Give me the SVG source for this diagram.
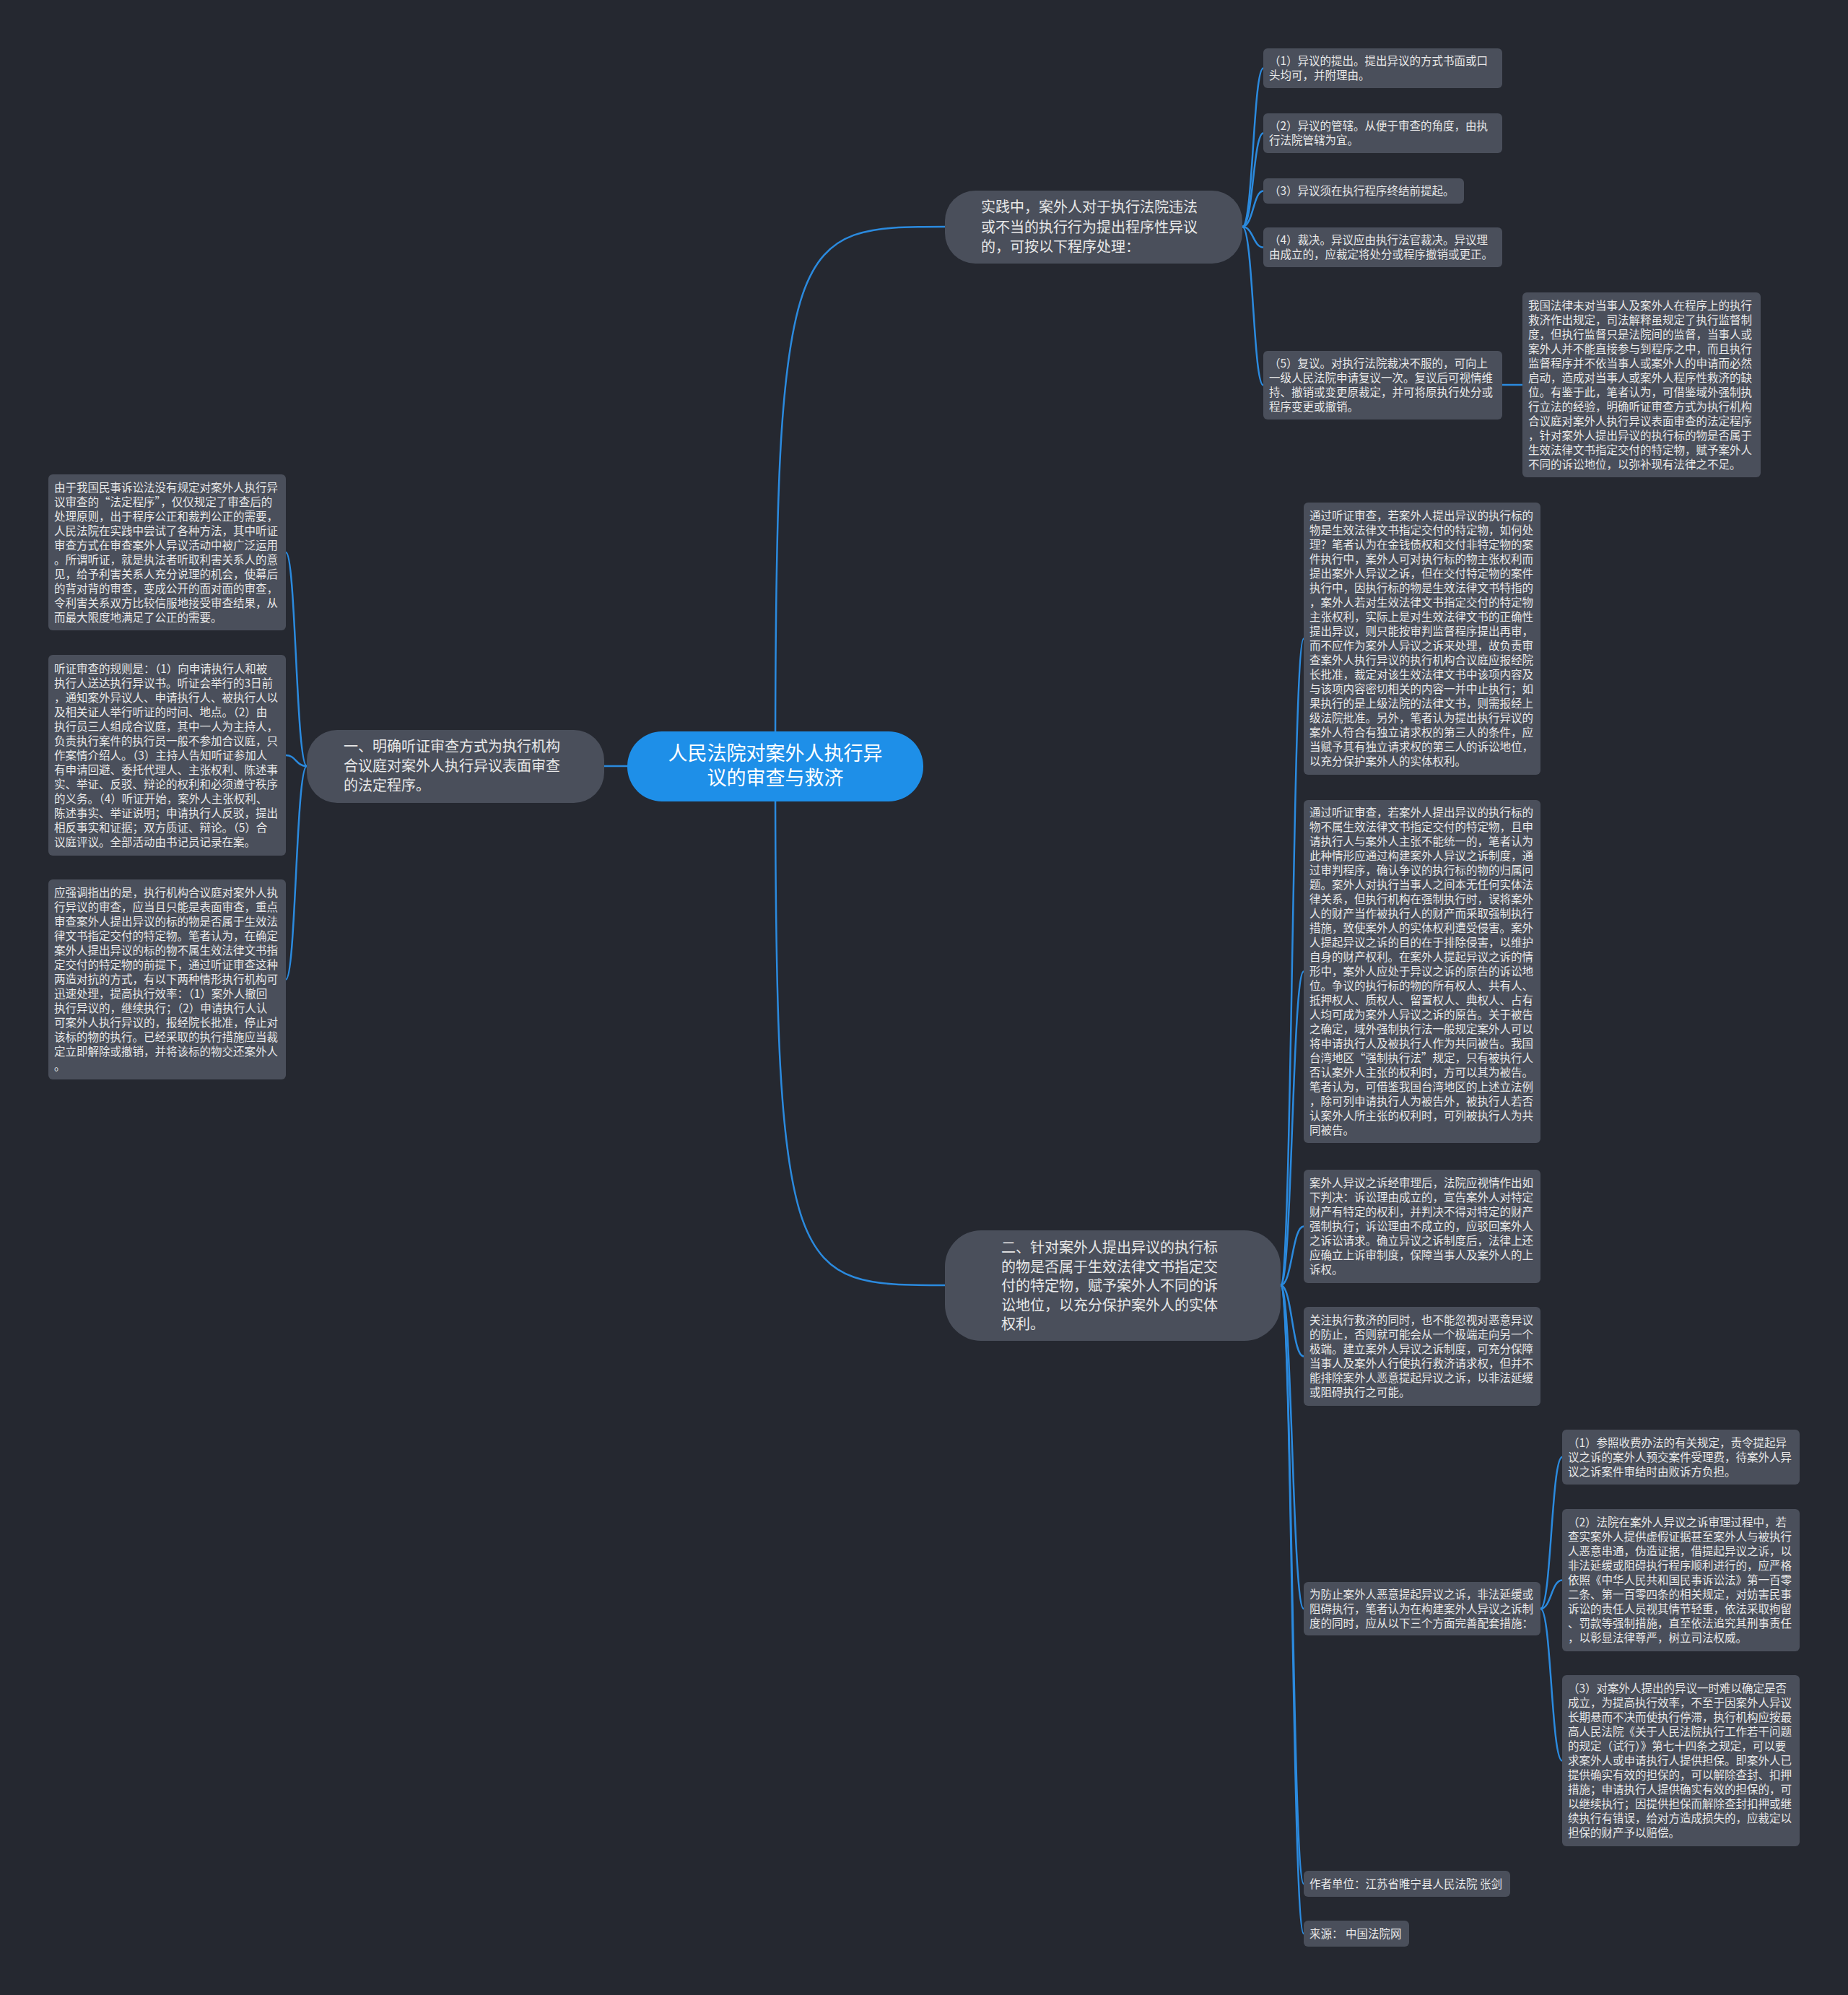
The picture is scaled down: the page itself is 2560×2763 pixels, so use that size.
<svg xmlns="http://www.w3.org/2000/svg" width="2560" height="2763" viewBox="0 0 2560 2763">
<style>
.bg{fill:#252830}
.n{fill:#4a4f5b}
.l1{fill:#4a4f5b}
.root{fill:#1e8fe8}
.t{font-family:"Noto Sans CJK SC","Noto Sans",sans-serif;font-size:15.5px;fill:#e8e8e8}
.t1{font-family:"Noto Sans CJK SC","Noto Sans",sans-serif;font-size:20px;fill:#e8e8e8}
.tr{font-family:"Noto Sans CJK SC","Noto Sans",sans-serif;font-size:27px;fill:#ffffff}
.c{fill:none;stroke:#2b8ade;stroke-width:2.5}
</style>
<rect class="bg" x="0" y="0" width="2560" height="2763"/>
<g id="connectors">
<path class="c" d="M1074,1061 C1074,314 1097,314 1309,314"/>
<path class="c" d="M1074,1061 C1074,1780 1097,1780 1309,1780"/>
<path class="c" d="M1074,1061 L837,1061"/>
<path class="c" d="M1721,314 C1736,314 1736,94.5 1750,94.5"/>
<path class="c" d="M1721,314 C1736,314 1736,184.5 1750,184.5"/>
<path class="c" d="M1721,314 C1736,314 1736,264.5 1750,264.5"/>
<path class="c" d="M1721,314 C1736,314 1736,342.5 1750,342.5"/>
<path class="c" d="M1721,314 C1736,314 1736,533.5 1750,533.5"/>
<path class="c" d="M2081,533 L2109,533"/>
<path class="c" d="M425,1061 C410,1061 410,765 396,765"/>
<path class="c" d="M425,1061 C410,1061 410,1046 396,1046"/>
<path class="c" d="M425,1061 C410,1061 410,1356.5 396,1356.5"/>
<path class="c" d="M1774,1780 C1790,1780 1790,884.5 1806,884.5"/>
<path class="c" d="M1774,1780 C1790,1780 1790,1345.5 1806,1345.5"/>
<path class="c" d="M1774,1780 C1790,1780 1790,1698.5 1806,1698.5"/>
<path class="c" d="M1774,1780 C1790,1780 1790,1878.5 1806,1878.5"/>
<path class="c" d="M1774,1780 C1790,1780 1790,2228 1806,2228"/>
<path class="c" d="M1774,1780 C1790,1780 1790,2609 1806,2609"/>
<path class="c" d="M1774,1780 C1790,1780 1790,2678 1806,2678"/>
<path class="c" d="M2134,2228 C2149,2228 2149,2018 2164,2018"/>
<path class="c" d="M2134,2228 C2149,2228 2149,2188.5 2164,2188.5"/>
<path class="c" d="M2134,2228 C2149,2228 2149,2438.5 2164,2438.5"/>
</g>
<g id="root">
<rect class="root" x="869" y="1013" width="410" height="97" rx="48"/>
<text class="tr" text-anchor="middle"><tspan x="1074" y="1053">人民法院对案外人执行异</tspan><tspan x="1074" dy="34">议的审查与救济</tspan></text>
</g>
<g id="nodeA">
<rect class="l1" x="1309" y="264" width="412" height="101" rx="42"/>
<text class="t1"><tspan x="1359" y="294">实践中，案外人对于执行法院违法</tspan><tspan x="1359" dy="27.5">或不当的执行行为提出程序性异议</tspan><tspan x="1359" dy="27.5">的，可按以下程序处理：</tspan></text>
</g>
<g id="nodeB">
<rect class="l1" x="425" y="1011" width="412" height="101" rx="42"/>
<text class="t1"><tspan x="476" y="1041">一、明确听证审查方式为执行机构</tspan><tspan x="476" dy="27">合议庭对案外人执行异议表面审查</tspan><tspan x="476" dy="27">的法定程序。</tspan></text>
</g>
<g id="nodeC">
<rect class="l1" x="1309" y="1704" width="465" height="153" rx="50"/>
<text class="t1"><tspan x="1387" y="1735">二、针对案外人提出异议的执行标</tspan><tspan x="1387" dy="26.5">的物是否属于生效法律文书指定交</tspan><tspan x="1387" dy="26.5">付的特定物，赋予案外人不同的诉</tspan><tspan x="1387" dy="26.5">讼地位，以充分保护案外人的实体</tspan><tspan x="1387" dy="26.5">权利。</tspan></text>
</g>
<g id="a1">
<rect class="n" x="1750" y="67" width="331" height="55" rx="6"/>
<text class="t"><tspan x="1758" y="90">（1）异议的提出。提出异议的方式书面或口</tspan><tspan x="1758" dy="20">头均可，并附理由。</tspan></text>
</g>
<g id="a2">
<rect class="n" x="1750" y="157" width="331" height="55" rx="6"/>
<text class="t"><tspan x="1758" y="180">（2）异议的管辖。从便于审查的角度，由执</tspan><tspan x="1758" dy="20">行法院管辖为宜。</tspan></text>
</g>
<g id="a3">
<rect class="n" x="1750" y="247" width="278" height="35" rx="6"/>
<text class="t"><tspan x="1758" y="270">（3）异议须在执行程序终结前提起。</tspan></text>
</g>
<g id="a4">
<rect class="n" x="1750" y="315" width="331" height="55" rx="6"/>
<text class="t"><tspan x="1758" y="338">（4）裁决。异议应由执行法官裁决。异议理</tspan><tspan x="1758" dy="20">由成立的，应裁定将处分或程序撤销或更正。</tspan></text>
</g>
<g id="a5">
<rect class="n" x="1750" y="486" width="331" height="95" rx="6"/>
<text class="t"><tspan x="1758" y="509">（5）复议。对执行法院裁决不服的，可向上</tspan><tspan x="1758" dy="20">一级人民法院申请复议一次。复议后可视情维</tspan><tspan x="1758" dy="20">持、撤销或变更原裁定，并可将原执行处分或</tspan><tspan x="1758" dy="20">程序变更或撤销。</tspan></text>
</g>
<g id="a5note">
<rect class="n" x="2109" y="405" width="330" height="256" rx="6"/>
<text class="t"><tspan x="2117" y="428.5">我国法律未对当事人及案外人在程序上的执行</tspan><tspan x="2117" dy="20">救济作出规定，司法解释虽规定了执行监督制</tspan><tspan x="2117" dy="20">度，但执行监督只是法院间的监督，当事人或</tspan><tspan x="2117" dy="20">案外人并不能直接参与到程序之中，而且执行</tspan><tspan x="2117" dy="20">监督程序并不依当事人或案外人的申请而必然</tspan><tspan x="2117" dy="20">启动，造成对当事人或案外人程序性救济的缺</tspan><tspan x="2117" dy="20">位。有鉴于此，笔者认为，可借鉴域外强制执</tspan><tspan x="2117" dy="20">行立法的经验，明确听证审查方式为执行机构</tspan><tspan x="2117" dy="20">合议庭对案外人执行异议表面审查的法定程序</tspan><tspan x="2117" dy="20">，针对案外人提出异议的执行标的物是否属于</tspan><tspan x="2117" dy="20">生效法律文书指定交付的特定物，赋予案外人</tspan><tspan x="2117" dy="20">不同的诉讼地位，以弥补现有法律之不足。</tspan></text>
</g>
<g id="b1">
<rect class="n" x="67" y="657" width="329" height="216" rx="6"/>
<text class="t"><tspan x="75" y="680.5">由于我国民事诉讼法没有规定对案外人执行异</tspan><tspan x="75" dy="20">议审查的“法定程序”，仅仅规定了审查后的</tspan><tspan x="75" dy="20">处理原则，出于程序公正和裁判公正的需要，</tspan><tspan x="75" dy="20">人民法院在实践中尝试了各种方法，其中听证</tspan><tspan x="75" dy="20">审查方式在审查案外人异议活动中被广泛运用</tspan><tspan x="75" dy="20">。所谓听证，就是执法者听取利害关系人的意</tspan><tspan x="75" dy="20">见，给予利害关系人充分说理的机会，使幕后</tspan><tspan x="75" dy="20">的背对背的审查，变成公开的面对面的审查，</tspan><tspan x="75" dy="20">令利害关系双方比较信服地接受审查结果，从</tspan><tspan x="75" dy="20">而最大限度地满足了公正的需要。</tspan></text>
</g>
<g id="b2">
<rect class="n" x="67" y="907" width="329" height="278" rx="6"/>
<text class="t"><tspan x="75" y="931.5">听证审查的规则是：（1）向申请执行人和被</tspan><tspan x="75" dy="20">执行人送达执行异议书。听证会举行的3日前</tspan><tspan x="75" dy="20">，通知案外异议人、申请执行人、被执行人以</tspan><tspan x="75" dy="20">及相关证人举行听证的时间、地点。（2）由</tspan><tspan x="75" dy="20">执行员三人组成合议庭，其中一人为主持人，</tspan><tspan x="75" dy="20">负责执行案件的执行员一般不参加合议庭，只</tspan><tspan x="75" dy="20">作案情介绍人。（3）主持人告知听证参加人</tspan><tspan x="75" dy="20">有申请回避、委托代理人、主张权利、陈述事</tspan><tspan x="75" dy="20">实、举证、反驳、辩论的权利和必须遵守秩序</tspan><tspan x="75" dy="20">的义务。（4）听证开始，案外人主张权利、</tspan><tspan x="75" dy="20">陈述事实、举证说明；申请执行人反驳，提出</tspan><tspan x="75" dy="20">相反事实和证据；双方质证、辩论。（5）合</tspan><tspan x="75" dy="20">议庭评议。全部活动由书记员记录在案。</tspan></text>
</g>
<g id="b3">
<rect class="n" x="67" y="1218" width="329" height="277" rx="6"/>
<text class="t"><tspan x="75" y="1242">应强调指出的是，执行机构合议庭对案外人执</tspan><tspan x="75" dy="20">行异议的审查，应当且只能是表面审查，重点</tspan><tspan x="75" dy="20">审查案外人提出异议的标的物是否属于生效法</tspan><tspan x="75" dy="20">律文书指定交付的特定物。笔者认为，在确定</tspan><tspan x="75" dy="20">案外人提出异议的标的物不属生效法律文书指</tspan><tspan x="75" dy="20">定交付的特定物的前提下，通过听证审查这种</tspan><tspan x="75" dy="20">两造对抗的方式，有以下两种情形执行机构可</tspan><tspan x="75" dy="20">迅速处理，提高执行效率：（1）案外人撤回</tspan><tspan x="75" dy="20">执行异议的，继续执行；（2）申请执行人认</tspan><tspan x="75" dy="20">可案外人执行异议的，报经院长批准，停止对</tspan><tspan x="75" dy="20">该标的物的执行。已经采取的执行措施应当裁</tspan><tspan x="75" dy="20">定立即解除或撤销，并将该标的物交还案外人</tspan><tspan x="75" dy="20">。</tspan></text>
</g>
<g id="c1">
<rect class="n" x="1806" y="696" width="328" height="377" rx="6"/>
<text class="t"><tspan x="1814" y="720">通过听证审查，若案外人提出异议的执行标的</tspan><tspan x="1814" dy="20">物是生效法律文书指定交付的特定物，如何处</tspan><tspan x="1814" dy="20">理？笔者认为在金钱债权和交付非特定物的案</tspan><tspan x="1814" dy="20">件执行中，案外人可对执行标的物主张权利而</tspan><tspan x="1814" dy="20">提出案外人异议之诉，但在交付特定物的案件</tspan><tspan x="1814" dy="20">执行中，因执行标的物是生效法律文书特指的</tspan><tspan x="1814" dy="20">，案外人若对生效法律文书指定交付的特定物</tspan><tspan x="1814" dy="20">主张权利，实际上是对生效法律文书的正确性</tspan><tspan x="1814" dy="20">提出异议，则只能按审判监督程序提出再审，</tspan><tspan x="1814" dy="20">而不应作为案外人异议之诉来处理，故负责审</tspan><tspan x="1814" dy="20">查案外人执行异议的执行机构合议庭应报经院</tspan><tspan x="1814" dy="20">长批准，裁定对该生效法律文书中该项内容及</tspan><tspan x="1814" dy="20">与该项内容密切相关的内容一并中止执行；如</tspan><tspan x="1814" dy="20">果执行的是上级法院的法律文书，则需报经上</tspan><tspan x="1814" dy="20">级法院批准。另外，笔者认为提出执行异议的</tspan><tspan x="1814" dy="20">案外人符合有独立请求权的第三人的条件，应</tspan><tspan x="1814" dy="20">当赋予其有独立请求权的第三人的诉讼地位，</tspan><tspan x="1814" dy="20">以充分保护案外人的实体权利。</tspan></text>
</g>
<g id="c2">
<rect class="n" x="1806" y="1108" width="328" height="475" rx="6"/>
<text class="t"><tspan x="1814" y="1131">通过听证审查，若案外人提出异议的执行标的</tspan><tspan x="1814" dy="20">物不属生效法律文书指定交付的特定物，且申</tspan><tspan x="1814" dy="20">请执行人与案外人主张不能统一的，笔者认为</tspan><tspan x="1814" dy="20">此种情形应通过构建案外人异议之诉制度，通</tspan><tspan x="1814" dy="20">过审判程序，确认争议的执行标的物的归属问</tspan><tspan x="1814" dy="20">题。案外人对执行当事人之间本无任何实体法</tspan><tspan x="1814" dy="20">律关系，但执行机构在强制执行时，误将案外</tspan><tspan x="1814" dy="20">人的财产当作被执行人的财产而采取强制执行</tspan><tspan x="1814" dy="20">措施，致使案外人的实体权利遭受侵害。案外</tspan><tspan x="1814" dy="20">人提起异议之诉的目的在于排除侵害，以维护</tspan><tspan x="1814" dy="20">自身的财产权利。在案外人提起异议之诉的情</tspan><tspan x="1814" dy="20">形中，案外人应处于异议之诉的原告的诉讼地</tspan><tspan x="1814" dy="20">位。争议的执行标的物的所有权人、共有人、</tspan><tspan x="1814" dy="20">抵押权人、质权人、留置权人、典权人、占有</tspan><tspan x="1814" dy="20">人均可成为案外人异议之诉的原告。关于被告</tspan><tspan x="1814" dy="20">之确定，域外强制执行法一般规定案外人可以</tspan><tspan x="1814" dy="20">将申请执行人及被执行人作为共同被告。我国</tspan><tspan x="1814" dy="20">台湾地区“强制执行法”规定，只有被执行人</tspan><tspan x="1814" dy="20">否认案外人主张的权利时，方可以其为被告。</tspan><tspan x="1814" dy="20">笔者认为，可借鉴我国台湾地区的上述立法例</tspan><tspan x="1814" dy="20">，除可列申请执行人为被告外，被执行人若否</tspan><tspan x="1814" dy="20">认案外人所主张的权利时，可列被执行人为共</tspan><tspan x="1814" dy="20">同被告。</tspan></text>
</g>
<g id="c3">
<rect class="n" x="1806" y="1620" width="328" height="157" rx="6"/>
<text class="t"><tspan x="1814" y="1644">案外人异议之诉经审理后，法院应视情作出如</tspan><tspan x="1814" dy="20">下判决：诉讼理由成立的，宣告案外人对特定</tspan><tspan x="1814" dy="20">财产有特定的权利，并判决不得对特定的财产</tspan><tspan x="1814" dy="20">强制执行；诉讼理由不成立的，应驳回案外人</tspan><tspan x="1814" dy="20">之诉讼请求。确立异议之诉制度后，法律上还</tspan><tspan x="1814" dy="20">应确立上诉审制度，保障当事人及案外人的上</tspan><tspan x="1814" dy="20">诉权。</tspan></text>
</g>
<g id="c4">
<rect class="n" x="1806" y="1810" width="328" height="137" rx="6"/>
<text class="t"><tspan x="1814" y="1834">关注执行救济的同时，也不能忽视对恶意异议</tspan><tspan x="1814" dy="20">的防止，否则就可能会从一个极端走向另一个</tspan><tspan x="1814" dy="20">极端。建立案外人异议之诉制度，可充分保障</tspan><tspan x="1814" dy="20">当事人及案外人行使执行救济请求权，但并不</tspan><tspan x="1814" dy="20">能排除案外人恶意提起异议之诉，以非法延缓</tspan><tspan x="1814" dy="20">或阻碍执行之可能。</tspan></text>
</g>
<g id="c5">
<rect class="n" x="1806" y="2191" width="328" height="74" rx="6"/>
<text class="t"><tspan x="1814" y="2213.5">为防止案外人恶意提起异议之诉，非法延缓或</tspan><tspan x="1814" dy="20">阻碍执行，笔者认为在构建案外人异议之诉制</tspan><tspan x="1814" dy="20">度的同时，应从以下三个方面完善配套措施：</tspan></text>
</g>
<g id="c6">
<rect class="n" x="1806" y="2591" width="286" height="36" rx="6"/>
<text class="t"><tspan x="1814" y="2614.5">作者单位：江苏省睢宁县人民法院 张剑</tspan></text>
</g>
<g id="c7">
<rect class="n" x="1806" y="2660" width="146" height="36" rx="6"/>
<text class="t"><tspan x="1814" y="2683.5">来源： 中国法院网</tspan></text>
</g>
<g id="d1">
<rect class="n" x="2164" y="1980" width="329" height="76" rx="6"/>
<text class="t"><tspan x="2172" y="2003.5">（1）参照收费办法的有关规定，责令提起异</tspan><tspan x="2172" dy="20">议之诉的案外人预交案件受理费，待案外人异</tspan><tspan x="2172" dy="20">议之诉案件审结时由败诉方负担。</tspan></text>
</g>
<g id="d2">
<rect class="n" x="2164" y="2090" width="329" height="197" rx="6"/>
<text class="t"><tspan x="2172" y="2114">（2）法院在案外人异议之诉审理过程中，若</tspan><tspan x="2172" dy="20">查实案外人提供虚假证据甚至案外人与被执行</tspan><tspan x="2172" dy="20">人恶意串通，伪造证据，借提起异议之诉，以</tspan><tspan x="2172" dy="20">非法延缓或阻碍执行程序顺利进行的，应严格</tspan><tspan x="2172" dy="20">依照《中华人民共和国民事诉讼法》第一百零</tspan><tspan x="2172" dy="20">二条、第一百零四条的相关规定，对妨害民事</tspan><tspan x="2172" dy="20">诉讼的责任人员视其情节轻重，依法采取拘留</tspan><tspan x="2172" dy="20">、罚款等强制措施，直至依法追究其刑事责任</tspan><tspan x="2172" dy="20">，以彰显法律尊严，树立司法权威。</tspan></text>
</g>
<g id="d3">
<rect class="n" x="2164" y="2320" width="329" height="237" rx="6"/>
<text class="t"><tspan x="2172" y="2344">（3）对案外人提出的异议一时难以确定是否</tspan><tspan x="2172" dy="20">成立，为提高执行效率，不至于因案外人异议</tspan><tspan x="2172" dy="20">长期悬而不决而使执行停滞，执行机构应按最</tspan><tspan x="2172" dy="20">高人民法院《关于人民法院执行工作若干问题</tspan><tspan x="2172" dy="20">的规定（试行）》第七十四条之规定，可以要</tspan><tspan x="2172" dy="20">求案外人或申请执行人提供担保。即案外人已</tspan><tspan x="2172" dy="20">提供确实有效的担保的，可以解除查封、扣押</tspan><tspan x="2172" dy="20">措施；申请执行人提供确实有效的担保的，可</tspan><tspan x="2172" dy="20">以继续执行；因提供担保而解除查封扣押或继</tspan><tspan x="2172" dy="20">续执行有错误，给对方造成损失的，应裁定以</tspan><tspan x="2172" dy="20">担保的财产予以赔偿。</tspan></text>
</g>
</svg>
